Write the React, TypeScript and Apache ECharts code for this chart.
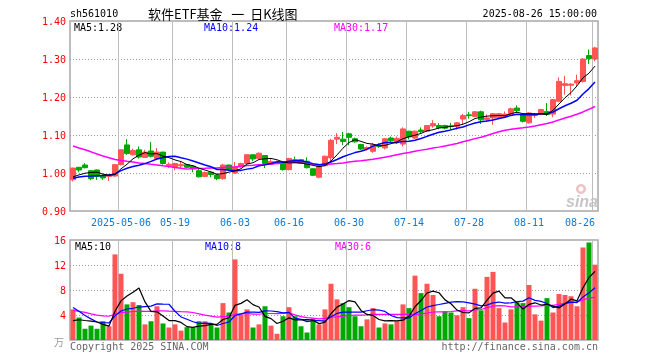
import React, { useEffect, useRef } from 'react';
import * as echarts from 'echarts';

const dates = [
  '2025-04-21','2025-04-22','2025-04-23','2025-04-24','2025-04-25','2025-04-28','2025-04-29','2025-04-30',
  '2025-05-06','2025-05-07','2025-05-08','2025-05-09','2025-05-12','2025-05-13','2025-05-14','2025-05-15','2025-05-16',
  '2025-05-19','2025-05-20','2025-05-21','2025-05-22','2025-05-23','2025-05-26','2025-05-27','2025-05-28','2025-05-29','2025-05-30',
  '2025-06-03','2025-06-04','2025-06-05','2025-06-06','2025-06-09','2025-06-10','2025-06-11','2025-06-12','2025-06-13',
  '2025-06-16','2025-06-17','2025-06-18','2025-06-19','2025-06-20','2025-06-23','2025-06-24','2025-06-25','2025-06-26','2025-06-27',
  '2025-06-30','2025-07-01','2025-07-02','2025-07-03','2025-07-04','2025-07-07','2025-07-08','2025-07-09','2025-07-10','2025-07-11',
  '2025-07-14','2025-07-15','2025-07-16','2025-07-17','2025-07-18','2025-07-21','2025-07-22','2025-07-23','2025-07-24','2025-07-25',
  '2025-07-28','2025-07-29','2025-07-30','2025-07-31','2025-08-01','2025-08-04','2025-08-05','2025-08-06','2025-08-07','2025-08-08',
  '2025-08-11','2025-08-12','2025-08-13','2025-08-14','2025-08-15','2025-08-18','2025-08-19','2025-08-20','2025-08-21','2025-08-22',
  '2025-08-25','2025-08-26'
];

const opens = [
  0.982,1.015,1.021,1.006,1.008,0.994,0.991,0.992,1.022,1.074,
  1.048,1.061,1.041,1.058,1.038,1.055,1.020,1.015,1.019,1.022,
  1.018,1.006,0.991,1.002,0.995,0.985,1.021,1.000,1.016,1.025,
  1.048,1.038,1.046,1.023,1.027,1.026,1.009,1.035,1.035,1.031,
  1.011,0.989,1.019,1.040,1.089,1.089,1.103,1.090,1.075,1.063,
  1.057,1.073,1.066,1.092,1.082,1.076,1.110,1.092,1.113,1.110,
  1.124,1.125,1.125,1.124,1.123,1.142,1.153,1.149,1.161,1.141,
  1.145,1.146,1.149,1.153,1.171,1.155,1.132,1.151,1.154,1.162,
  1.155,1.189,1.230,1.231,1.237,1.241,1.309,1.300
];
const closes = [
  1.013,1.008,1.014,0.985,0.991,0.987,0.994,1.022,1.061,1.051,
  1.059,1.042,1.055,1.044,1.055,1.025,1.023,1.025,1.022,1.015,
  1.011,0.990,1.001,0.996,0.985,1.021,1.009,1.016,1.025,1.048,
  1.037,1.052,1.025,1.030,1.030,1.009,1.038,1.029,1.026,1.014,
  0.994,1.020,1.044,1.086,1.094,1.083,1.094,1.082,1.063,1.067,
  1.074,1.070,1.090,1.085,1.091,1.116,1.095,1.110,1.109,1.125,
  1.130,1.119,1.118,1.122,1.132,1.151,1.151,1.161,1.140,1.145,
  1.156,1.156,1.155,1.169,1.164,1.136,1.158,1.153,1.167,1.154,
  1.193,1.241,1.235,1.234,1.243,1.300,1.301,1.329
];
const lows = [
  0.978,1.002,1.012,0.981,0.982,0.982,0.979,0.990,1.020,1.048,
  1.046,1.038,1.040,1.041,1.036,1.022,1.013,1.007,1.013,1.012,
  1.002,0.988,0.989,0.989,0.981,0.983,1.006,0.998,1.014,1.023,
  1.031,1.036,1.013,1.021,1.025,1.006,1.007,1.027,1.024,1.012,
  0.992,0.986,1.018,1.030,1.076,1.073,1.073,1.080,1.060,1.059,
  1.053,1.066,1.062,1.081,1.076,1.070,1.088,1.090,1.103,1.108,
  1.119,1.115,1.115,1.113,1.114,1.129,1.143,1.147,1.129,1.134,
  1.127,1.143,1.145,1.150,1.158,1.133,1.130,1.145,1.152,1.150,
  1.147,1.186,1.206,1.204,1.228,1.238,1.287,1.294
];
const highs = [
  1.014,1.016,1.026,1.008,1.009,0.997,0.997,1.023,1.062,1.089,
  1.064,1.070,1.061,1.082,1.066,1.056,1.028,1.027,1.030,1.024,
  1.019,1.013,1.004,1.004,0.998,1.024,1.022,1.029,1.027,1.050,
  1.049,1.054,1.047,1.039,1.033,1.028,1.040,1.043,1.037,1.041,
  1.012,1.021,1.046,1.090,1.105,1.108,1.106,1.093,1.077,1.070,
  1.079,1.078,1.092,1.096,1.096,1.120,1.111,1.112,1.120,1.126,
  1.139,1.131,1.127,1.132,1.134,1.156,1.161,1.163,1.164,1.154,
  1.158,1.158,1.162,1.172,1.178,1.157,1.160,1.158,1.169,1.184,
  1.195,1.252,1.256,1.236,1.259,1.302,1.325,1.332
];
// volume, in 万
const volumes = [
  4.9,3.6,1.8,2.3,1.8,3.0,2.2,13.7,10.6,5.7,
  6.05,5.6,2.5,3.0,5.4,2.65,2.0,2.5,1.5,2.05,
  2.0,3.0,3.0,2.5,2.0,5.9,4.4,12.9,4.1,4.9,
  2.0,2.5,5.4,2.3,1.0,3.8,5.25,3.8,2.2,1.2,
  3.4,2.5,4.9,9.0,6.5,5.9,5.25,3.8,2.2,3.3,
  5.1,2.0,2.65,2.5,3.0,5.7,5.1,10.3,7.5,9.0,
  7.2,3.8,4.6,4.4,3.95,5.25,3.5,8.2,4.75,10.1,
  10.9,5.1,2.8,4.9,6.05,5.9,8.8,4.1,3.1,6.7,
  4.4,7.35,7.2,7.0,5.4,14.8,15.6,12.05
];
// sessions before the visible window (estimated from where the MA lines start)
const earlierCloses = [
  1.162,1.155,1.148,1.158,1.146,1.140,1.152,1.139,
  1.121,1.115,1.108,1.112,1.098,1.104,1.095,1.087,1.093,1.085,1.082,
  0.968,0.975,0.990,0.982,0.985,0.978,0.983,0.992,0.975,0.987
];
const earlierVolumes = [
  8.5,7.2,8.9,7.6,7.3,
  3.6,3.2,3.9,3.4,2.9,3.3,3.7,3.1,2.8,3.5,3.0,3.2,2.9,3.1,5.4,
  9.5,8.8,7.6,6.8,3.8,2.9,2.4,2.8,2.5
];
const axisDates = ['2025-05-06','2025-05-19','2025-06-03','2025-06-16','2025-06-30','2025-07-14','2025-07-28','2025-08-11','2025-08-26'];
const maPeriods = [5, 10, 30];
const maColors = ['#000000', '#0000ff', '#ff00ff'];

const UP = '#ff5555';
const DOWN = '#00a800';
const MONO = '"DejaVu Sans Mono", monospace';
const GRIDC = '#a8a8a8';
const GUIDE = '#bdbdbd';

function movingAverage(current: number[], earlier: number[], n: number): number[] {
  const all = earlier.concat(current);
  const off = earlier.length;
  return current.map((_, i) => {
    let s = 0;
    for (let k = off + i - n + 1; k <= off + i; k++) s += all[k];
    return +(s / n).toFixed(4);
  });
}

const isAxisDate = (_i: number, v: string) => axisDates.includes(v);

export default function App() {
  const ref = useRef<HTMLDivElement>(null);
  useEffect(() => {
    if (!ref.current) return;
    const chart = echarts.init(ref.current, undefined, { renderer: 'svg' });
    const priceMA = maPeriods.map((n) => movingAverage(closes, earlierCloses, n));
    const volMA = maPeriods.map((n) => movingAverage(volumes, earlierVolumes, n));
    const last = closes.length - 1;
    const txt = (text: string, x: number, y: number, fill: string, align = 'left', font = `10px ${MONO}`) => ({
      type: 'text',
      x,
      y,
      silent: true,
      style: { text, fill, font, textAlign: align, textVerticalAlign: 'middle' },
    });
    const vSplit = { show: true, interval: isAxisDate, lineStyle: { color: GUIDE, width: 1, type: 'solid' } };
    const option: any = {
      animation: false,
      grid: [
        { left: 70, top: 21, width: 528, height: 190, show: true, borderColor: GRIDC, borderWidth: 1.5 },
        { left: 70, top: 240, width: 528, height: 100, show: true, borderColor: GRIDC, borderWidth: 1.5 },
      ],
      xAxis: [
        {
          type: 'category', gridIndex: 0, data: dates, boundaryGap: true,
          axisLine: { show: false }, axisTick: { show: false }, splitLine: vSplit,
          axisLabel: {
            interval: isAxisDate,
            formatter: (v: string) => (v === axisDates[0] ? v : v.slice(5)),
            color: '#0a7ad9', fontFamily: MONO, fontSize: 10, margin: 6,
            alignMaxLabel: 'right', showMaxLabel: true,
          },
        },
        {
          type: 'category', gridIndex: 1, data: dates, boundaryGap: true,
          axisLine: { show: false }, axisTick: { show: false }, axisLabel: { show: false },
          splitLine: vSplit,
        },
      ],
      yAxis: [
        {
          type: 'value', gridIndex: 0, min: 0.9, max: 1.4, interval: 0.1,
          axisLine: { show: false }, axisTick: { show: false },
          axisLabel: { color: '#ff0000', fontFamily: MONO, fontSize: 10, margin: 4, formatter: (v: number) => v.toFixed(2) },
          splitLine: { show: true, showMinLine: false, showMaxLine: false, lineStyle: { type: [1, 2], color: '#999' } },
        },
        {
          type: 'value', gridIndex: 1, min: 0, max: 16, interval: 4,
          axisLine: { show: false }, axisTick: { show: false },
          axisLabel: { color: '#ff0000', fontFamily: MONO, fontSize: 10, margin: 4, formatter: (v: number) => (v === 0 ? '' : String(v)) },
          splitLine: { show: true, showMinLine: false, showMaxLine: false, lineStyle: { type: [1, 2], color: '#999' } },
        },
      ],
      series: [
        {
          type: 'candlestick', xAxisIndex: 0, yAxisIndex: 0, barWidth: 5, z: 2,
          data: dates.map((_, i) => [opens[i], closes[i], lows[i], highs[i]]),
          itemStyle: { color: UP, color0: DOWN, borderColor: UP, borderColor0: DOWN, borderWidth: 1 },
        },
        ...[2, 1, 0].map((k) => ({
          type: 'line', xAxisIndex: 0, yAxisIndex: 0, data: priceMA[k], symbol: 'none', z: 3,
          lineStyle: { color: maColors[k], width: k === 0 ? 1 : 1.5 },
        })),
        {
          type: 'bar', xAxisIndex: 1, yAxisIndex: 1, barWidth: 5, z: 2,
          data: volumes.map((v, i) => ({ value: v, itemStyle: { color: closes[i] >= opens[i] ? UP : DOWN } })),
        },
        ...[2, 1, 0].map((k) => ({
          type: 'line', xAxisIndex: 1, yAxisIndex: 1, data: volMA[k], symbol: 'none', z: 3,
          lineStyle: { color: maColors[k], width: 1.2 },
        })),
      ],
      graphic: [
        txt('sh561010', 70, 13, '#000'),
        txt('软件ETF基金   一  日K线图', 148, 13, '#000', 'left', '13px "Noto Sans CJK SC"'),
        txt('2025-08-26 15:00:00', 597, 13, '#000', 'right'),
        ...maPeriods.map((n, k) => txt(`MA${n}:${priceMA[k][last].toFixed(2)}`, 74 + 130 * k, 27, maColors[k])),
        ...maPeriods.map((n, k) => txt(`MA${n}:${Math.floor(volMA[k][last])}`, 75 + 130 * k, 246, maColors[k])),
        txt('Copyright 2025 SINA.COM', 70, 346, '#666'),
        txt('http://finance.sina.com.cn', 598, 346, '#666', 'right'),
        txt('万', 64, 341, '#999', 'right', '10px "Noto Sans CJK SC"'),
        {
          type: 'group', silent: true,
          children: [
            { type: 'ring', shape: { cx: 581, cy: 189, r: 5, r0: 2.5 }, style: { fill: '#efc2c2' } },
            { type: 'text', x: 566, y: 201, style: { text: 'sina', fill: '#c6c6c6', font: 'italic bold 16px "Liberation Sans"', textVerticalAlign: 'middle' } },
          ],
        },
      ],
    };
    chart.setOption(option);
    return () => chart.dispose();
  }, []);
  return <div ref={ref} style={{ position: 'fixed', left: 0, top: 0, width: 660, height: 360 }} />;
}
